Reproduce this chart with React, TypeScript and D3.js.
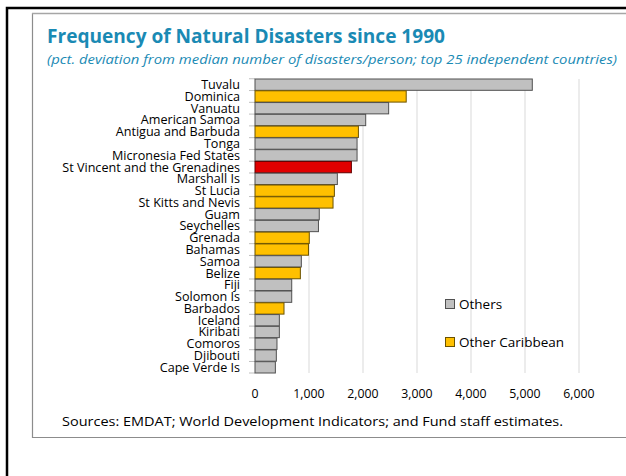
import React from "react";
import * as d3 from "d3";

const countries = [
  "Tuvalu", "Dominica", "Vanuatu", "American Samoa", "Antigua and Barbuda", "Tonga",
  "Micronesia Fed States", "St Vincent and the Grenadines", "Marshall Is", "St Lucia",
  "St Kitts and Nevis", "Guam", "Seychelles", "Grenada", "Bahamas", "Samoa", "Belize",
  "Fiji", "Solomon Is", "Barbados", "Iceland", "Kiribati", "Comoros", "Djibouti", "Cape Verde Is",
];
const values = [
  5135, 2800, 2475, 2050, 1915, 1890, 1890, 1785, 1525, 1470, 1445, 1190, 1175, 1005, 990,
  858, 840, 680, 680, 537, 451, 451, 407, 395, 377,
];
// group: 0 = Others, 1 = Other Caribbean, 2 = St Vincent
const groups = [0, 1, 0, 0, 1, 0, 0, 2, 0, 1, 1, 0, 0, 1, 1, 0, 1, 0, 0, 1, 0, 0, 0, 0, 0];
const xTicks = [0, 1000, 2000, 3000, 4000, 5000, 6000];
const legendItems = ["Others", "Other Caribbean"];

const fills = ["#c0c0c0", "#ffc000", "#e00000"];
const strokes = ["#505050", "#6b5200", "#600000"];
const FONT = "'Open Sans', 'Noto Sans', sans-serif";

export default function App() {
  const W = 626, H = 476;
  const x = d3.scaleLinear().domain([0, 6000]).range([255, 579]);
  const y = d3.scaleBand<string>().domain(countries).range([79, 373]).paddingInner(0.04);
  const gridTop = 79, gridBottom = 373;
  const teal = "#1a8ab4";
  const half = (y.step() - y.bandwidth()) / 2;
  return (
    <svg width={W} height={H} style={{ position: "absolute", left: 0, top: 0, background: "#fff" }}
      fontFamily={FONT}>
      <rect x={0} y={0} width={W} height={H} fill="#fff" />
      {/* outer frame */}
      <path d={`M7,${H + 5} V8 H${W + 5}`} fill="none" stroke="#000" strokeWidth={2.5} />
      {/* inner frame */}
      <path d={`M${W + 5},13.5 H32.5 V437.5 H${W + 5}`} fill="none" stroke="#8c8c8c" strokeWidth={1.2} />
      <line x1={32} x2={W} y1={13.5} y2={13.5} stroke="#a6a6a6" strokeWidth={1.5} />

      <text x={47} y={43} fontSize={19.5} fontWeight={700} fill={teal} textLength={398} lengthAdjust="spacingAndGlyphs">
        Frequency of Natural Disasters since 1990
      </text>
      <text x={47} y={63.5} fontSize={13} fontStyle="italic" fill={teal} textLength={570} lengthAdjust="spacingAndGlyphs">
        (pct. deviation from median number of disasters/person; top 25 independent countries)
      </text>

      {/* gridlines */}
      {xTicks.slice(1).map((t) => (
        <line key={t} x1={x(t)} x2={x(t)} y1={gridTop} y2={gridBottom} stroke="#d9d9d9" strokeWidth={1} />
      ))}
      {/* y ticks */}
      {countries.map((c) => (
        <line key={"t" + c} x1={249} x2={255} y1={(y(c) as number) - half}
          y2={(y(c) as number) - half} stroke="#bfbfbf" strokeWidth={1} />
      ))}
      <line x1={249} x2={255} y1={gridBottom} y2={gridBottom} stroke="#bfbfbf" strokeWidth={1} />

      {/* bars */}
      {countries.map((c, i) => (
        <rect key={c} x={x(0)} y={y(c) as number} width={x(values[i]) - x(0)} height={y.bandwidth()}
          fill={fills[groups[i]]} stroke={strokes[groups[i]]} strokeWidth={1} />
      ))}
      {/* labels */}
      {countries.map((c) => (
        <text key={"l" + c} x={240} y={(y(c) as number) + y.bandwidth() / 2} dy="0.35em" textAnchor="end"
          fontSize={12.6} fill="#000">
          {c}
        </text>
      ))}
      {/* x tick labels */}
      {xTicks.map((t) => (
        <text key={"x" + t} x={x(t)} y={394} dy="0.35em" textAnchor="middle" fontSize={12.3} fill="#000">
          {d3.format(",")(t)}
        </text>
      ))}

      {/* legend */}
      {legendItems.map((name, i) => (
        <g key={name} transform={`translate(445, ${299 + i * 38})`}>
          <rect x={0.5} y={0.5} width={9} height={9} fill={fills[i]} stroke={strokes[i]} strokeWidth={1} />
          <text x={14} y={5} dy="0.35em" fontSize={13.5} fill="#000">{name}</text>
        </g>
      ))}

      <text x={62} y={426} fontSize={13} fill="#000" textLength={501} lengthAdjust="spacingAndGlyphs">
        Sources: EMDAT; World Development Indicators; and Fund staff estimates.
      </text>
    </svg>
  );
}
